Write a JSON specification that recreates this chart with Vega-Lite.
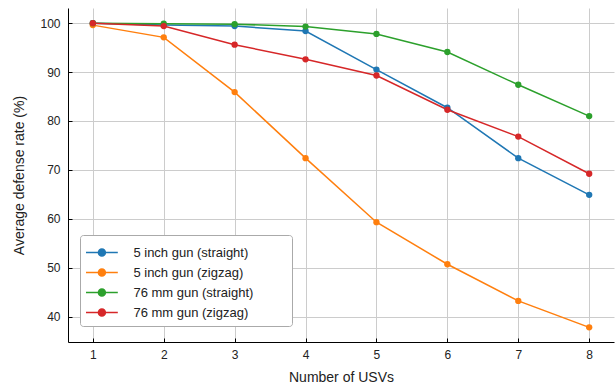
{
  "$schema": "https://vega.github.io/schema/vega-lite/v6.json",
  "width": 546,
  "height": 334,
  "autosize": {"type": "none"},
  "padding": {"left": 68, "top": 8, "right": 2, "bottom": 46},
  "config": {
    "view": {"stroke": null},
    "font": "Liberation Sans",
    "axis": {
      "labelFont": "Liberation Sans", "titleFont": "Liberation Sans", "labelFontSize": 12, "titleFontSize": 14,
      "labelColor": "#222", "titleColor": "#222", "titleFontWeight": "normal",
      "gridColor": "#cccccc", "gridWidth": 1, "domainColor": "#000", "domainWidth": 1,
      "tickColor": "#000", "tickSize": -4
    }
  },
  "data": {"values": [
    {"n": 1, "s": "5 inch gun (straight)", "v": 100.0},
    {"n": 2, "s": "5 inch gun (straight)", "v": 99.6},
    {"n": 3, "s": "5 inch gun (straight)", "v": 99.4},
    {"n": 4, "s": "5 inch gun (straight)", "v": 98.4},
    {"n": 5, "s": "5 inch gun (straight)", "v": 90.5},
    {"n": 6, "s": "5 inch gun (straight)", "v": 82.7},
    {"n": 7, "s": "5 inch gun (straight)", "v": 72.4},
    {"n": 8, "s": "5 inch gun (straight)", "v": 64.9},
    {"n": 1, "s": "5 inch gun (zigzag)", "v": 99.6},
    {"n": 2, "s": "5 inch gun (zigzag)", "v": 97.1},
    {"n": 3, "s": "5 inch gun (zigzag)", "v": 85.9},
    {"n": 4, "s": "5 inch gun (zigzag)", "v": 72.4},
    {"n": 5, "s": "5 inch gun (zigzag)", "v": 59.3},
    {"n": 6, "s": "5 inch gun (zigzag)", "v": 50.7},
    {"n": 7, "s": "5 inch gun (zigzag)", "v": 43.2},
    {"n": 8, "s": "5 inch gun (zigzag)", "v": 37.8},
    {"n": 1, "s": "76 mm gun (straight)", "v": 100.0},
    {"n": 2, "s": "76 mm gun (straight)", "v": 99.9},
    {"n": 3, "s": "76 mm gun (straight)", "v": 99.8},
    {"n": 4, "s": "76 mm gun (straight)", "v": 99.3},
    {"n": 5, "s": "76 mm gun (straight)", "v": 97.8},
    {"n": 6, "s": "76 mm gun (straight)", "v": 94.1},
    {"n": 7, "s": "76 mm gun (straight)", "v": 87.4},
    {"n": 8, "s": "76 mm gun (straight)", "v": 81.0},
    {"n": 1, "s": "76 mm gun (zigzag)", "v": 100.0},
    {"n": 2, "s": "76 mm gun (zigzag)", "v": 99.4},
    {"n": 3, "s": "76 mm gun (zigzag)", "v": 95.6},
    {"n": 4, "s": "76 mm gun (zigzag)", "v": 92.6},
    {"n": 5, "s": "76 mm gun (zigzag)", "v": 89.3},
    {"n": 6, "s": "76 mm gun (zigzag)", "v": 82.3},
    {"n": 7, "s": "76 mm gun (zigzag)", "v": 76.8},
    {"n": 8, "s": "76 mm gun (zigzag)", "v": 69.2}
  ]},
  "mark": {"type": "line", "strokeWidth": 1.5, "point": {"size": 40, "filled": true, "opacity": 1}},
  "encoding": {
    "x": {
      "field": "n", "type": "quantitative",
      "scale": {"domain": [0.65, 8.35], "nice": false, "zero": false},
      "axis": {"values": [1,2,3,4,5,6,7,8], "title": "Number of USVs", "labelPadding": 11, "titlePadding": 10, "format": "d"}
    },
    "y": {
      "field": "v", "type": "quantitative",
      "scale": {"domain": [34.8, 103.1], "nice": false, "zero": false},
      "axis": {"values": [40,50,60,70,80,90,100], "title": "Average defense rate (%)", "labelPadding": 12, "titlePadding": 13}
    },
    "color": {
      "field": "s", "type": "nominal", "title": null,
      "scale": {"domain": ["5 inch gun (straight)", "5 inch gun (zigzag)", "76 mm gun (straight)", "76 mm gun (zigzag)"],
                "range": ["#1f77b4", "#ff7f0e", "#2ca02c", "#d62728"]},
      "legend": {
        "orient": "none", "legendX": 12, "legendY": 227,
        "symbolType": "M-1.5,0H1.5M-0.33,0A0.33,0.33 0 1,0 0.33,0A0.33,0.33 0 1,0 -0.33,0Z",
        "symbolSize": 450, "symbolStrokeWidth": 1.5, "symbolOffset": 4.4,
        "labelFont": "Liberation Sans", "labelFontSize": 13, "labelColor": "#222", "labelOffset": 20, "labelLimit": 400,
        "labelExpr": "datum.label + '\u00a0\u00a0\u00a0\u00a0\u00a0\u00a0\u00a0\u00a0\u00a0\u200b'",
        "rowPadding": 1, "padding": 6, "strokeColor": "#aaaaaa", "cornerRadius": 3, "fillColor": "#fff",
        "encode": {"symbols": {"update": {"fill": {"scale": "color", "field": "value"}, "stroke": {"scale": "color", "field": "value"}, "opacity": {"value": 1}}}}
      }
    }
  }
}
